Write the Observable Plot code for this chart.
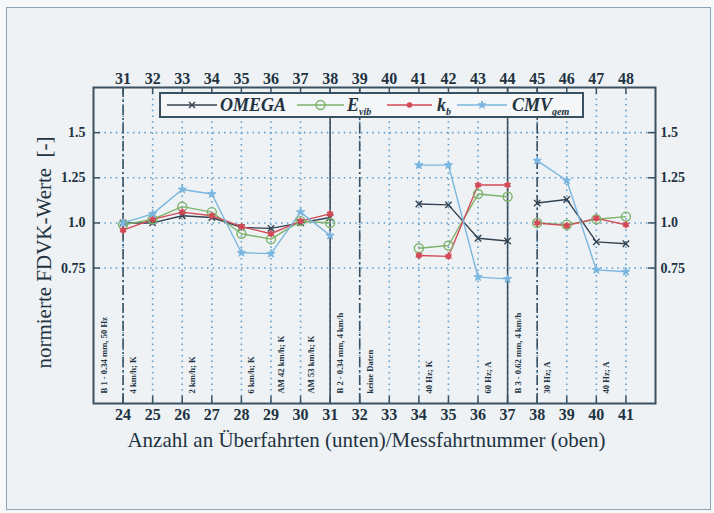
<!DOCTYPE html>
<html><head><meta charset="utf-8">
<script src="https://cdn.jsdelivr.net/npm/d3@7"></script>
<script src="https://cdn.jsdelivr.net/npm/@observablehq/plot@0.6"></script>
<style>
html,body{margin:0;padding:0;background:#f7f8f9;}
#wrap{position:relative;width:714px;height:513px;overflow:hidden;background:#f7f8f9;}
#border{position:absolute;left:6px;top:7px;width:705px;height:503px;border:1.5px solid #8da2b2;box-sizing:border-box;background:#eef2f5;}
#chart{position:absolute;left:0;top:0;}
</style></head><body>
<div id="wrap"><div id="border"></div><div id="chart"></div></div>
<script>
// ---- data ----
const xBottom = [24,25,26,27,28,29,30,31,32,33,34,35,36,37,38,39,40,41];
const xTop    = [31,32,33,34,35,36,37,38,39,40,41,42,43,44,45,46,47,48];
const yTicks = [0.75, 1.0, 1.25, 1.5];
const yTickLabels = ["0.75", "1.0", "1.25", "1.5"];

const runs    = [24,25,26,27,28,29,30,31, 34,35,36,37, 38,39,40,41];
const segment = [ 1, 1, 1, 1, 1, 1, 1, 1,  2, 2, 2, 2,  3, 3, 3, 3];

const seriesNames = ["OMEGA", "E_vib", "k_b", "CMV_gem"];
const omega = [1.00,1.00,1.04,1.03,0.975,0.97,1.00,1.03, 1.105,1.10,0.915,0.90, 1.11,1.13,0.895,0.885];
const evib  = [0.99,1.02,1.09,1.06,0.94,0.91,1.01,1.00, 0.86,0.875,1.16,1.145, 1.00,0.99,1.02,1.035];
const kb    = [0.96,1.02,1.06,1.04,0.98,0.94,1.01,1.05, 0.82,0.815,1.21,1.21, 1.00,0.985,1.025,0.99];
const cmv   = [1.00,1.05,1.185,1.16,0.835,0.83,1.06,0.93, 1.32,1.32,0.70,0.69, 1.345,1.235,0.74,0.73];

const solidDividers = [31, 37];
const dashDividers  = [24, 32, 38];

const noteX    = [23, 24, 26, 28, 29, 30, 31, 32, 34, 36, 37, 38, 40];
const noteText = ["B 1 - 0.34 mm, 50 Hz", "4 km/h; K", "2 km/h; K", "6 km/h; K", "AM 42 km/h; K", "AM 53 km/h; K",
                  "B 2 - 0.34 mm, 4 km/h", "keine Daten", "40 Hz; K", "60 Hz; A",
                  "B 3 - 0.62 mm, 4 km/h", "30 Hz; A", "40 Hz; A"];

const xLabel = "Anzahl an Überfahrten (unten)/Messfahrtnummer (oben)";
const yLabel = "normierte FDVK-Werte  [-]";

// ---- build ----
const colors = {OMEGA: "#34424f", E_vib: "#7db36a", k_b: "#d24b57", CMV_gem: "#7ab6df"};
const valuesBySeries = {OMEGA: omega, E_vib: evib, k_b: kb, CMV_gem: cmv};
const rows = [];
for (const s of seriesNames) valuesBySeries[s].forEach((v, i) => rows.push({series: s, x: runs[i], y: v, seg: s + segment[i]}));
const rowsOf = s => rows.filter(d => d.series === s);
const notes = noteX.map((x, i) => ({x, text: noteText[i]}));

const W = 714, H = 513, mL = 93, mR = 59, mT = 87, mB = 110;
const iw = W - mL - mR, ih = H - mT - mB;
const ink = "#223241", frameInk = "#3a5162", gridInk = "#5d9ccb";
const font = "Liberation Serif";

const plot = Plot.plot({
  width: W, height: H,
  marginLeft: mL, marginRight: mR, marginTop: mT, marginBottom: mB,
  x: {domain: [23, 42]},
  y: {domain: [0, 1.75]},
  style: {fontFamily: font, fontSize: "14px", color: ink, background: "transparent", overflow: "visible"},
  marks: [
    Plot.ruleY(yTicks, {y: d => d, stroke: gridInk, strokeWidth: 1.6, strokeDasharray: "1.5,4.2"}),
    Plot.ruleX(xBottom, {x: d => d, stroke: gridInk, strokeWidth: 1.6, strokeDasharray: "1.5,4.2"}),
    Plot.ruleX(dashDividers, {x: d => d, stroke: frameInk, strokeWidth: 1.6, strokeDasharray: "10,3,2,3"}),
    Plot.ruleX(solidDividers, {x: d => d, stroke: frameInk, strokeWidth: 1.6}),
    Plot.text(notes, {x: "x", text: "text", frameAnchor: "bottom", dy: -10, dx: 13, rotate: -90, textAnchor: "start",
                      fontFamily: font, fontSize: 8.6, fontWeight: "bold", fill: ink}),
    ...seriesNames.map(s => Plot.line(rowsOf(s), {x: "x", y: "y", z: "seg", stroke: colors[s], strokeWidth: 1.4})),
    Plot.dot(rowsOf("OMEGA"), {x: "x", y: "y", symbol: "times", r: 3, stroke: colors.OMEGA, strokeWidth: 1.4}),
    Plot.dot(rowsOf("E_vib"), {x: "x", y: "y", symbol: "circle", r: 4.5, stroke: colors.E_vib, strokeWidth: 1.4, fill: "none"}),
    Plot.dot(rowsOf("k_b"), {x: "x", y: "y", symbol: "circle", r: 2.8, fill: colors.k_b}),
    Plot.dot(rowsOf("k_b"), {x: "x", y: "y", symbol: "asterisk", r: 3.5, stroke: colors.k_b, strokeWidth: 1.1}),
    Plot.dot(rowsOf("CMV_gem"), {x: "x", y: "y", symbol: "star", r: 2.6, fill: colors.CMV_gem, stroke: colors.CMV_gem, strokeWidth: 1}),
    Plot.frame({stroke: frameInk, strokeWidth: 2}),
    // inward tick marks
    Plot.tickX(xBottom, {x: d => d, insetTop: ih - 7, stroke: frameInk, strokeWidth: 1.5}),
    Plot.tickX(xBottom, {x: d => d, insetBottom: ih - 7, stroke: frameInk, strokeWidth: 1.5}),
    Plot.tickY(yTicks, {y: d => d, insetRight: iw - 7, stroke: frameInk, strokeWidth: 1.5}),
    Plot.tickY(yTicks, {y: d => d, insetLeft: iw - 7, stroke: frameInk, strokeWidth: 1.5}),
    // tick labels
    Plot.axisX({anchor: "bottom", ticks: xBottom, tickSize: 0, tickPadding: 5, label: null, tickFormat: d => String(d), fill: ink, fontFamily: font, fontWeight: "bold", fontSize: 16}),
    Plot.axisX({anchor: "top", ticks: xBottom, tickSize: 0, tickPadding: 4, label: null, tickFormat: d => String(xTop[xBottom.indexOf(d)]), fill: ink, fontFamily: font, fontWeight: "bold", fontSize: 16}),
    Plot.axisY({anchor: "left", ticks: yTicks, tickSize: 0, tickPadding: 8, label: null, tickFormat: d => yTickLabels[yTicks.indexOf(d)], fill: ink, fontFamily: font, fontWeight: "bold", fontSize: 14}),
    Plot.axisY({anchor: "right", ticks: yTicks, tickSize: 0, tickPadding: 5, label: null, tickFormat: d => yTickLabels[yTicks.indexOf(d)], fill: ink, fontFamily: font, fontWeight: "bold", fontSize: 14}),
    // axis titles
    Plot.text([xLabel], {text: d => d, frameAnchor: "bottom", textAnchor: "middle", lineAnchor: "middle", dy: 37, dx: -8,
                         fontFamily: font, fontSize: 21, fill: ink}),
    Plot.text([yLabel], {text: d => d, frameAnchor: "left", textAnchor: "middle", lineAnchor: "middle", dx: -49, dy: 7, rotate: -90,
                         fontFamily: font, fontSize: 21, fill: ink})
  ]
});
document.getElementById("chart").appendChild(plot);

// ---- legend (inside top of the frame) ----
const svg = d3.select(plot);
const lg = svg.append("g").attr("font-family", font).attr("fill", ink).attr("text-anchor", "start");
lg.append("rect").attr("x", 160).attr("y", 93).attr("width", 423).attr("height", 24)
  .attr("fill", "#f4f6f8").attr("stroke", frameInk).attr("stroke-width", 2);
const entries = [
  {s: "OMEGA", x1: 167, x2: 217, tx: 220, main: "OMEGA", sub: ""},
  {s: "E_vib", x1: 297, x2: 344, tx: 347, main: "E", sub: "vib"},
  {s: "k_b", x1: 387, x2: 432, tx: 437, main: "k", sub: "b"},
  {s: "CMV_gem", x1: 457, x2: 507, tx: 512, main: "CMV", sub: "gem"}
];
const ly = 105;
for (const e of entries) {
  lg.append("line").attr("x1", e.x1).attr("x2", e.x2).attr("y1", ly).attr("y2", ly)
    .attr("stroke", colors[e.s]).attr("stroke-width", 1.5);
  const cx = (e.x1 + e.x2) / 2;
  if (e.s === "OMEGA") {
    lg.append("path").attr("d", `M${cx-3},${ly-3}L${cx+3},${ly+3}M${cx-3},${ly+3}L${cx+3},${ly-3}`).attr("stroke", colors.OMEGA).attr("stroke-width", 1.4);
  } else if (e.s === "E_vib") {
    lg.append("circle").attr("cx", cx).attr("cy", ly).attr("r", 4.5).attr("fill", "none").attr("stroke", colors.E_vib).attr("stroke-width", 1.4);
  } else if (e.s === "k_b") {
    lg.append("circle").attr("cx", cx).attr("cy", ly).attr("r", 2.8).attr("fill", colors.k_b);
  } else {
    lg.append("path").attr("d", d3.symbol(d3.symbolStar, 18)()).attr("transform", `translate(${cx},${ly})`).attr("fill", colors.CMV_gem).attr("stroke", colors.CMV_gem);
  }
  const t = lg.append("text").attr("x", e.tx).attr("y", ly + 6).attr("text-anchor", "start").attr("font-size", 18).attr("font-style", "italic").attr("font-weight", "bold");
  t.append("tspan").text(e.main);
  if (e.sub) t.append("tspan").attr("font-size", 10).attr("dy", 4).text(e.sub);
}
</script>
</body></html>
